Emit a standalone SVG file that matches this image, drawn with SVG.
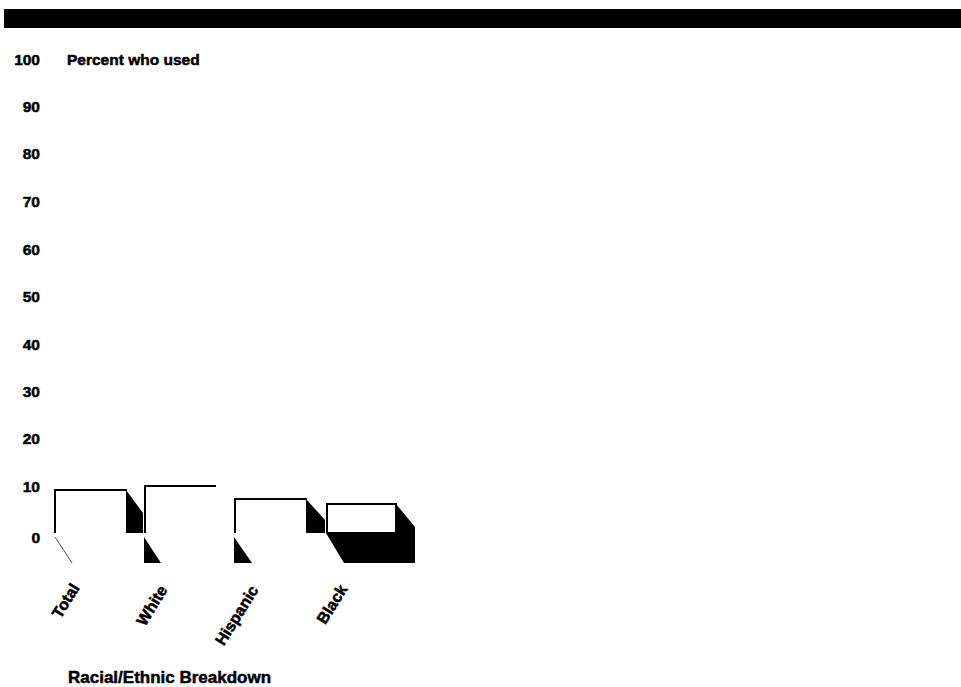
<svg xmlns="http://www.w3.org/2000/svg" width="961" height="687" viewBox="0 0 961 687">
<style>
text{font-family:"Liberation Sans",Arial,sans-serif;font-weight:bold;fill:#000;stroke:#000;stroke-width:0.5}
.ax{font-size:15.5px;text-anchor:end}
.cat{font-size:16px;text-anchor:end}
.front{fill:#fff;stroke:#000;stroke-width:2}
.dark{fill:#000}
</style>
<rect width="961" height="687" fill="#fff"/>
<rect x="4" y="9" width="957" height="19" fill="#000"/>
<g id="yaxis">
<text class="ax" x="40" y="65">100</text>
<text class="ax" x="40" y="112">90</text>
<text class="ax" x="40" y="159">80</text>
<text class="ax" x="40" y="207">70</text>
<text class="ax" x="40" y="255">60</text>
<text class="ax" x="40" y="302">50</text>
<text class="ax" x="40" y="350">40</text>
<text class="ax" x="40" y="397">30</text>
<text class="ax" x="40" y="444">20</text>
<text class="ax" x="40" y="492">10</text>
<text class="ax" x="40" y="543">0</text>
</g>
<text x="67" y="65" font-size="15.5">Percent who used</text>
<g id="bar-total">
<polygon class="dark" points="126,490 143,513 143,533 126,533"/>
<path d="M55,533 V490 H127" fill="none" stroke="#000" stroke-width="2"/>
<line x1="55" y1="537" x2="72" y2="563" stroke="#000" stroke-width="0.7"/>
</g>
<g id="bar-white">
<path d="M145,533 V486 H216" fill="none" stroke="#000" stroke-width="2"/>
<polygon class="dark" points="144,537 161,563 144,563"/>
</g>
<g id="bar-hispanic">
<polygon class="dark" points="306,499 325,520 325,533 306,533"/>
<path d="M235,533 V499 H307" fill="none" stroke="#000" stroke-width="2"/>
<polygon class="dark" points="234,537 252,563 234,563"/>
</g>
<g id="bar-black">
<polygon class="dark" points="326,533 396,533 396,504 415,527 415,563 344,563"/>
<rect class="front" x="327" y="504" width="69" height="29"/>
</g>
<g id="labels">
<text class="cat" transform="translate(80,588) rotate(-58)">Total</text>
<text class="cat" transform="translate(168,590) rotate(-58)">White</text>
<text class="cat" transform="translate(259,590) rotate(-58)">Hispanic</text>
<text class="cat" transform="translate(348,589) rotate(-58)">Black</text>
</g>
<text x="68" y="683" font-size="17">Racial/Ethnic Breakdown</text>
</svg>
